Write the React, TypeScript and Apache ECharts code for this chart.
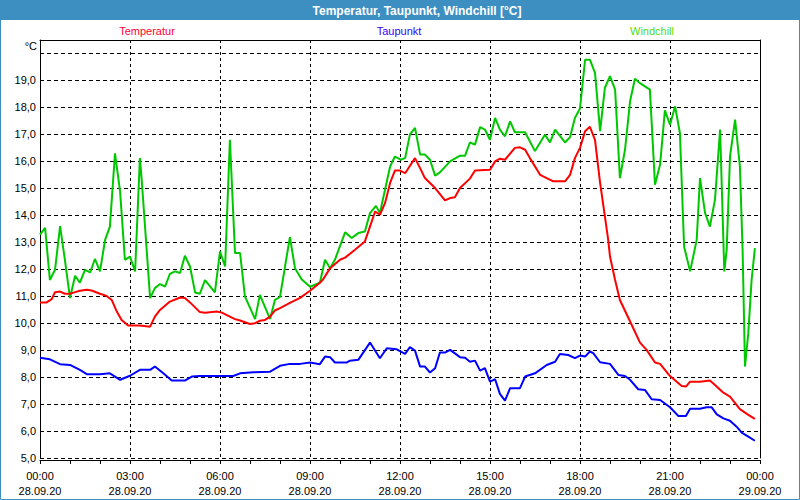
import React, { useEffect, useRef } from 'react';
import * as echarts from 'echarts';

const chartTitle = 'Temperatur, Taupunkt, Windchill [°C]';
const seriesNames = ['Temperatur', 'Taupunkt', 'Windchill'];
const timeLabels = ['00:00', '03:00', '06:00', '09:00', '12:00', '15:00', '18:00', '21:00', '00:00'];
const dateLabels = ['28.09.20', '28.09.20', '28.09.20', '28.09.20', '28.09.20', '28.09.20', '28.09.20', '28.09.20', '29.09.20'];
const yUnit = '°C';

// [hour of day, °C]
const temperatur = [
  [0, 10.77], [0.22, 10.77], [0.39, 10.89], [0.5, 11.15], [0.67, 11.17], [0.83, 11.09], [1.0, 11.09], [1.17, 11.15],
  [1.33, 11.2], [1.56, 11.24], [1.72, 11.21], [2.0, 11.09], [2.22, 11.01], [2.39, 10.86], [2.56, 10.43], [2.72, 10.12],
  [2.94, 9.91], [3.33, 9.91], [3.67, 9.87], [3.83, 10.24], [4.0, 10.49], [4.33, 10.8], [4.67, 10.95], [4.83, 10.93],
  [5.0, 10.77], [5.33, 10.41], [5.5, 10.39], [5.89, 10.43], [6.06, 10.39], [6.33, 10.24], [6.5, 10.15], [6.67, 10.1],
  [7.0, 9.97], [7.17, 10.0], [7.33, 10.09], [7.5, 10.12], [7.67, 10.24], [7.83, 10.47], [8.0, 10.56], [8.33, 10.75],
  [8.67, 10.94], [9.0, 11.2], [9.33, 11.5], [9.44, 11.63], [9.67, 12.04], [10.0, 12.35], [10.17, 12.43], [10.5, 12.72],
  [10.83, 13.03], [11.0, 13.58], [11.17, 14.14], [11.33, 14.02], [11.5, 14.45], [11.67, 15.2], [11.83, 15.66], [12.0, 15.66],
  [12.17, 15.56], [12.5, 16.12], [12.67, 15.75], [12.83, 15.38], [13.17, 15.01], [13.5, 14.55], [13.67, 14.64], [13.83, 14.67],
  [14.0, 15.01], [14.33, 15.36], [14.5, 15.66], [15.0, 15.69], [15.17, 16.0], [15.33, 16.1], [15.5, 16.06], [15.83, 16.5],
  [16.0, 16.52], [16.17, 16.43], [16.33, 16.12], [16.67, 15.5], [17.11, 15.26], [17.5, 15.26], [17.67, 15.5], [17.83, 16.12],
  [18.0, 16.5], [18.17, 17.12], [18.33, 17.28], [18.5, 16.8], [18.67, 15.2], [18.83, 13.96], [18.94, 13.09], [19.0, 12.47],
  [19.17, 11.6], [19.33, 10.86], [19.67, 10.06], [20.0, 9.28], [20.22, 9.01], [20.5, 8.54], [20.67, 8.49], [21.0, 8.04],
  [21.39, 7.67], [21.53, 7.65], [21.67, 7.83], [22.0, 7.83], [22.33, 7.87], [22.5, 7.71], [22.78, 7.42], [23.0, 7.28],
  [23.33, 6.81], [23.61, 6.6], [23.83, 6.45],
];

const taupunkt = [
  [0, 8.72], [0.33, 8.66], [0.67, 8.48], [1.0, 8.45], [1.33, 8.27], [1.56, 8.11], [2.0, 8.11], [2.33, 8.14],
  [2.67, 7.9], [3.0, 8.05], [3.33, 8.27], [3.67, 8.27], [3.83, 8.39], [4.11, 8.14], [4.39, 7.87], [4.83, 7.87],
  [5.06, 8.02], [5.33, 8.04], [6.44, 8.04], [6.67, 8.14], [7.11, 8.18], [7.67, 8.2], [8.0, 8.42], [8.33, 8.49],
  [8.67, 8.49], [9.0, 8.54], [9.33, 8.48], [9.5, 8.76], [9.67, 8.74], [9.83, 8.54], [10.22, 8.54], [10.33, 8.61],
  [10.61, 8.64], [11.0, 9.28], [11.33, 8.7], [11.56, 9.07], [11.89, 9.03], [12.17, 8.86], [12.33, 9.11], [12.5, 8.98],
  [12.67, 8.39], [12.83, 8.39], [13.0, 8.17], [13.17, 8.33], [13.33, 8.91], [13.5, 8.91], [13.67, 9.01], [14.0, 8.74],
  [14.17, 8.72], [14.33, 8.57], [14.5, 8.61], [14.67, 8.24], [14.83, 8.33], [15.0, 7.83], [15.17, 7.92], [15.33, 7.38],
  [15.5, 7.13], [15.67, 7.59], [16.0, 7.59], [16.17, 8.02], [16.5, 8.14], [16.89, 8.45], [17.17, 8.57], [17.33, 8.86],
  [17.61, 8.82], [17.83, 8.7], [18.0, 8.8], [18.17, 8.76], [18.33, 8.95], [18.44, 8.89], [18.67, 8.55], [19.0, 8.49],
  [19.28, 8.08], [19.5, 8.04], [19.67, 7.9], [19.94, 7.55], [20.17, 7.52], [20.39, 7.18], [20.67, 7.15], [21.0, 6.88],
  [21.28, 6.56], [21.53, 6.56], [21.67, 6.83], [22.0, 6.83], [22.22, 6.88], [22.39, 6.88], [22.56, 6.62], [22.78, 6.47],
  [23.0, 6.38], [23.22, 6.16], [23.39, 5.94], [23.61, 5.79], [23.83, 5.64],
];

const windchill = [
  [0, 13.28], [0.17, 13.53], [0.33, 11.6], [0.5, 11.98], [0.67, 13.6], [0.83, 12.35], [1.0, 10.93], [1.17, 11.76],
  [1.33, 11.5], [1.5, 11.98], [1.67, 11.88], [1.83, 12.38], [2.0, 11.92], [2.17, 13.09], [2.33, 13.58], [2.5, 16.3],
  [2.67, 14.88], [2.83, 12.35], [3.0, 12.47], [3.17, 11.92], [3.33, 16.12], [3.39, 15.32], [3.67, 10.93], [3.83, 11.3],
  [4.0, 11.45], [4.17, 11.36], [4.33, 11.83], [4.5, 11.92], [4.67, 11.86], [4.83, 12.5], [5.0, 12.1], [5.17, 11.14],
  [5.33, 11.09], [5.5, 11.6], [5.83, 11.14], [6.0, 12.66], [6.17, 12.1], [6.33, 16.8], [6.5, 12.6], [6.67, 12.6],
  [6.83, 10.99], [7.17, 10.15], [7.33, 11.05], [7.67, 10.15], [7.83, 10.86], [8.0, 10.97], [8.33, 13.19], [8.5, 12.04],
  [8.72, 11.63], [9.0, 11.35], [9.33, 11.5], [9.5, 12.35], [9.67, 12.04], [9.83, 12.35], [10.17, 13.37], [10.39, 13.16],
  [10.61, 13.34], [10.83, 13.4], [11.0, 14.08], [11.2, 14.35], [11.33, 14.08], [11.67, 15.81], [11.83, 16.18], [12.02, 16.06],
  [12.17, 16.12], [12.33, 16.99], [12.5, 17.24], [12.67, 16.25], [12.83, 16.25], [13.0, 16.06], [13.17, 15.47], [13.33, 15.59],
  [13.67, 16.0], [14.0, 16.21], [14.17, 16.21], [14.33, 16.7], [14.5, 16.62], [14.67, 17.27], [14.83, 17.18], [15.0, 16.8],
  [15.17, 17.61], [15.33, 17.18], [15.5, 16.93], [15.67, 17.48], [15.83, 17.08], [16.17, 17.08], [16.5, 16.38], [16.83, 16.99],
  [17.0, 16.7], [17.17, 17.18], [17.5, 16.7], [17.67, 16.9], [17.83, 17.61], [18.0, 17.96], [18.17, 19.77], [18.33, 19.77],
  [18.5, 19.28], [18.67, 17.12], [18.83, 18.73], [19.0, 19.16], [19.17, 18.66], [19.33, 15.38], [19.5, 16.43], [19.67, 18.23],
  [19.83, 19.06], [20.0, 18.9], [20.33, 18.66], [20.5, 15.13], [20.67, 15.88], [20.83, 17.89], [21.0, 17.36], [21.17, 18.04],
  [21.33, 17.05], [21.47, 12.84], [21.67, 11.92], [21.89, 13.09], [22.0, 15.38], [22.17, 14.08], [22.33, 13.58], [22.5, 14.58],
  [22.67, 17.18], [22.81, 11.92], [22.89, 12.72], [23.0, 16.18], [23.17, 17.55], [23.33, 15.81], [23.42, 12.72], [23.5, 8.39],
  [23.61, 9.63], [23.72, 11.6], [23.83, 12.78],
];

const FONT = '"Liberation Sans", Arial, sans-serif';
const FRAME_BLUE = '#3d8fc2';
const LINE_COLORS = ['#ff0000', '#0000ff', '#00c800'];
const LEGEND_COLORS = ['#ff0033', '#3300ff', '#55dd00'];

export default function App() {
  const ref = useRef<HTMLDivElement>(null);

  useEffect(() => {
    if (!ref.current) return;
    const chart = echarts.init(ref.current, null, { renderer: 'svg' });
    const dashedGrid = { show: true, lineStyle: { color: '#000', width: 1, type: [4, 3] as any } };
    const option: any = {
      animation: false,
      backgroundColor: '#ffffff',
      grid: { left: 40, right: 40, top: 40, bottom: 42, containLabel: false },
      graphic: [
        { type: 'rect', shape: { x: 0, y: 0, width: 800, height: 20 }, style: { fill: FRAME_BLUE }, z: 0 },
        { type: 'rect', shape: { x: 0.5, y: 0.5, width: 799, height: 499 }, style: { fill: 'none', stroke: FRAME_BLUE, lineWidth: 1 }, z: 0 },
        { type: 'text', x: 417, y: 11, style: { text: chartTitle, fill: '#ffffff', font: `bold 12px ${FONT}`, textAlign: 'center', textVerticalAlign: 'middle' }, z: 10 },
        { type: 'text', x: 147, y: 31, style: { text: seriesNames[0], fill: LEGEND_COLORS[0], font: `11px ${FONT}`, textAlign: 'center', textVerticalAlign: 'middle' } },
        { type: 'text', x: 399, y: 31, style: { text: seriesNames[1], fill: LEGEND_COLORS[1], font: `11px ${FONT}`, textAlign: 'center', textVerticalAlign: 'middle' } },
        { type: 'text', x: 652, y: 31, style: { text: seriesNames[2], fill: LEGEND_COLORS[2], font: `11px ${FONT}`, textAlign: 'center', textVerticalAlign: 'middle' } },
        { type: 'text', x: 37, y: 46, style: { text: yUnit, fill: '#000', font: `11px ${FONT}`, textAlign: 'right', textVerticalAlign: 'middle' } },
      ],
      xAxis: [
        {
          type: 'value', min: 0, max: 24, interval: 3, offset: 2,
          axisLine: { show: true, onZero: false, lineStyle: { color: '#000', width: 1 } },
          axisTick: { show: true, inside: false, length: 4, lineStyle: { color: '#000' } },
          minorTick: { show: true, splitNumber: 3, length: 4, lineStyle: { color: '#000' } },
          splitLine: { show: true, lineStyle: { color: '#000', width: 1, type: [3, 3] } },
          axisLabel: {
            color: '#000', fontFamily: FONT, fontSize: 11, lineHeight: 15, margin: 8,
            formatter: (v: number) => { const i = Math.round(v / 3); return `${timeLabels[i]}\n${dateLabels[i]}`; },
          },
        },
        {
          type: 'value', min: 0, max: 24, position: 'top',
          axisLine: { show: true, onZero: false, lineStyle: { color: '#000', width: 1 } },
          axisTick: { show: false }, axisLabel: { show: false }, splitLine: { show: false },
        },
      ],
      yAxis: [
        {
          type: 'value', min: 5, max: 20.5, interval: 1,
          axisLine: { show: true, onZero: false, lineStyle: { color: '#000', width: 1 } },
          axisTick: { show: false },
          splitLine: dashedGrid,
          axisLabel: {
            color: '#000', fontFamily: FONT, fontSize: 11, margin: 4,
            formatter: (v: number) => (v <= 19.01 ? v.toFixed(1).replace('.', ',') : ''),
          },
        },
        {
          type: 'value', min: 5, max: 20.5, position: 'right',
          axisLine: { show: true, onZero: false, lineStyle: { color: '#000', width: 1 } },
          axisTick: { show: false }, axisLabel: { show: false }, splitLine: { show: false },
        },
      ],
      series: [
        { name: seriesNames[2], type: 'line', data: windchill, showSymbol: false, lineStyle: { color: LINE_COLORS[2], width: 2 }, itemStyle: { color: LINE_COLORS[2] } },
        { name: seriesNames[0], type: 'line', data: temperatur, showSymbol: false, lineStyle: { color: LINE_COLORS[0], width: 2 }, itemStyle: { color: LINE_COLORS[0] } },
        { name: seriesNames[1], type: 'line', data: taupunkt, showSymbol: false, lineStyle: { color: LINE_COLORS[1], width: 2 }, itemStyle: { color: LINE_COLORS[1] } },
      ],
    };
    chart.setOption(option);
    return () => chart.dispose();
  }, []);

  return (
    <div style={{ position: 'fixed', left: 0, top: 0, width: 800, height: 500 }}>
      <div ref={ref} style={{ width: 800, height: 500 }} />
    </div>
  );
}
